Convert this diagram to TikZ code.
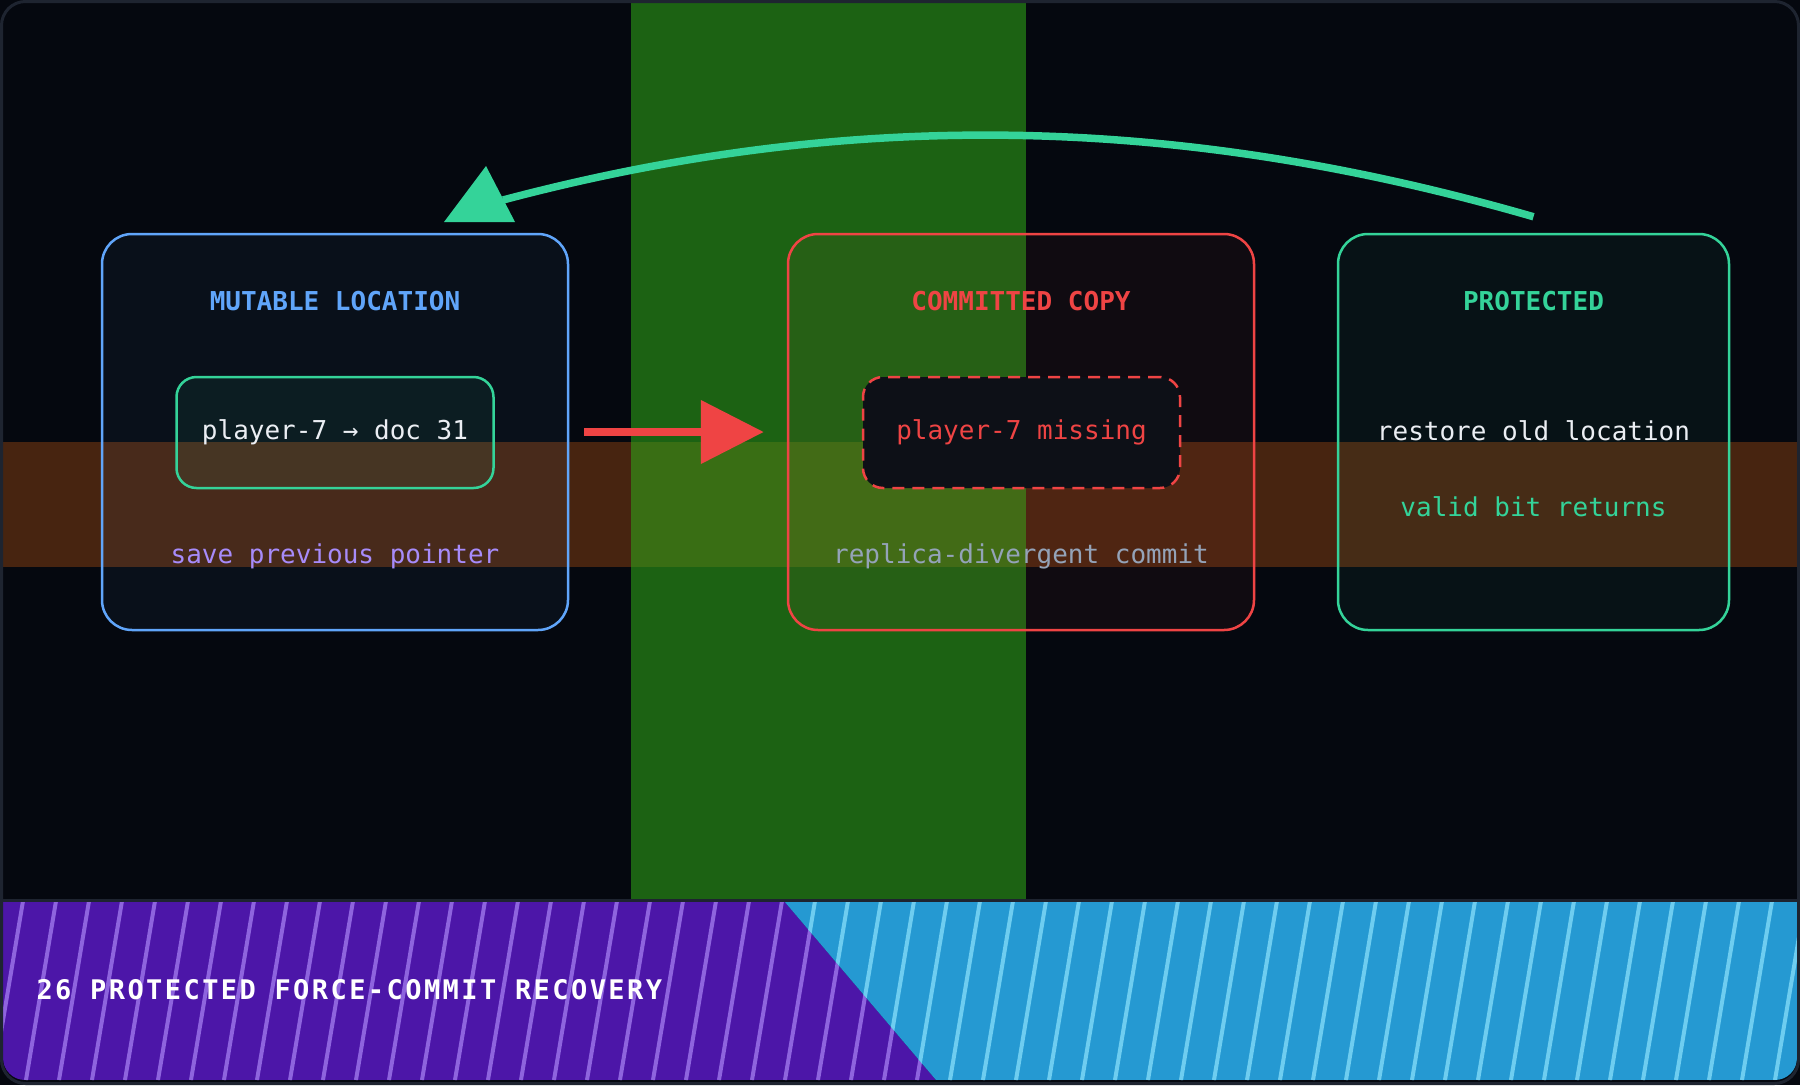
\documentclass[tikz,border=0pt]{standalone}
\usepackage{fontspec}
\setmonofont{DejaVu Sans Mono}
\newfontfamily\bannerfont[LetterSpace=9]{DejaVu Sans Mono}
\usetikzlibrary{arrows.meta, positioning, calc}

\definecolor{canvas}{RGB}{5,8,15}
\definecolor{framegray}{RGB}{30,36,48}
\definecolor{mutblue}{RGB}{96,165,250}
\definecolor{alertred}{RGB}{239,68,68}
\definecolor{okgreen}{RGB}{52,211,153}
\definecolor{softviolet}{RGB}{167,139,250}
\definecolor{slategray}{RGB}{148,163,184}
\definecolor{paletext}{RGB}{235,238,243}
\definecolor{bandgreen}{RGB}{47,172,24}
\definecolor{bandorange}{RGB}{249,115,22}
\definecolor{bannerviolet}{RGB}{76,22,168}
\definecolor{bannerblue}{RGB}{37,153,210}
\definecolor{violetstripe}{RGB}{142,100,222}
\definecolor{bluestripe}{RGB}{110,205,240}
\definecolor{slotfill}{RGB}{13,16,23}

\begin{document}
\begin{tikzpicture}[x=1pt, y=-1pt,
    panel/.style={draw, rounded corners=30pt, line width=2.5pt, fill opacity=0.05, minimum width=466pt, minimum height=396pt, inner sep=0pt},
    slot/.style={draw, rounded corners=20pt, line width=2.5pt, minimum width=317pt, minimum height=111pt, text opacity=1, font=\ttfamily\fontsize{26}{30}\selectfont},
    heading/.style={anchor=base, font=\ttfamily\bfseries\fontsize{26}{30}\selectfont},
    caption/.style={anchor=base, font=\ttfamily\fontsize{26}{30}\selectfont},
    flow/.style={line width=8pt, draw=alertred, -{Triangle[length=63pt, width=62pt]}},
    loopback/.style={line width=7.5pt, draw=okgreen},
    stripe/.style={line width=4pt}
  ]
    \useasboundingbox (0,0) rectangle (1800,1085);

    % Backdrop and bands
    \fill[canvas] (0,0) rectangle (1800,1085);
    \fill[bandorange, fill opacity=0.27] (0,442) rectangle (1800,567);
    \fill[bandgreen, fill opacity=0.55] (631,0) rectangle (1026,899);

    % Panels
    \node[panel, draw=mutblue, fill=mutblue] (mutable) at (335,432) {};
    \node[panel, draw=alertred, fill=alertred] (committed) at (1021,432) {};
    \node[panel, draw=okgreen, fill=okgreen, minimum width=391pt] (protected) at (1533.5,432) {};

    \node[heading, text=mutblue] (mutabletitle) at ($(mutable.north)+(0,78)$) {MUTABLE LOCATION};
    \node[heading, text=alertred] (committedtitle) at ($(committed.north)+(0,78)$) {COMMITTED COPY};
    \node[heading, text=okgreen] (protectedtitle) at ($(protected.north)+(0,78)$) {PROTECTED};

    \node[slot, draw=okgreen, fill=okgreen, fill opacity=0.07, text=paletext] (pointer) at (335,432.5) {player-7 → doc 31};
    \node[slot, draw=alertred, dash pattern=on 12pt off 8pt, fill=slotfill, text=alertred] (missing) at (1021.5,432.5) {player-7 missing};

    \node[caption, text=softviolet] (savenote) at ($(mutable.north)+(0,331)$) {save previous pointer};
    \node[caption, text=slategray] (divergenote) at ($(committed.north)+(0,331)$) {replica-divergent commit};
    \node[caption, text=paletext] (restorenote) at ($(protected.north)+(0,208)$) {restore old location};
    \node[caption, text=okgreen] (validnote) at ($(protected.north)+(0,284)$) {valid bit returns};

    % Connections
    \draw[flow] ([xshift=15pt]mutable.east) -- ([xshift=-23pt]committed.west);

    \coordinate (backtip) at (503,200);
    \draw[loopback] ([yshift=16pt]protected.north) .. controls (1178,114) and (850,108) .. (backtip);
    \fill[okgreen] ($(backtip)+(-17,-34)$) -- ($(backtip)+(-59,22)$) -- ($(backtip)+(12,22)$) -- cycle;

    % Banner
    \begin{scope}
      \clip[rounded corners=22pt] (3,860) rectangle (1797,1080);
      \begin{scope}
        \clip (3,901) -- (784,901) -- (936,1080) -- (3,1080) -- cycle;
        \fill[bannerviolet] (0,901) rectangle (1800,1080);
        \foreach \sx in {23,56,...,1000}
          \draw[stripe, violetstripe] (\sx,901) -- (\sx-30,1080);
      \end{scope}
      \begin{scope}
        \clip (784,901) -- (1797,901) -- (1797,1080) -- (936,1080) -- cycle;
        \fill[bannerblue] (0,901) rectangle (1800,1080);
        \foreach \sx in {749,782,...,1850}
          \draw[stripe, bluestripe] (\sx,901) -- (\sx-30,1080);
      \end{scope}
    \end{scope}
    \draw[framegray, line width=3pt] (0,900) -- (1800,900);
    \node[anchor=base west, text=white, font=\bannerfont\bfseries\fontsize{27}{30}\selectfont] (bannertitle) at (33,999) {26 PROTECTED FORCE-COMMIT RECOVERY};

    \draw[framegray, line width=3pt, rounded corners=24pt] (1.5,1.5) rectangle (1798.5,1083.5);
  \end{tikzpicture}
\end{document}
